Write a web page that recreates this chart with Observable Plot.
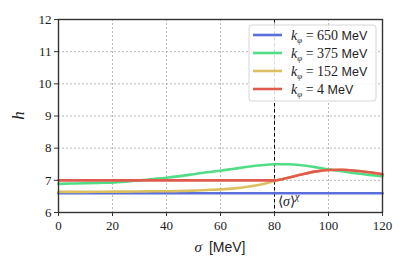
<!DOCTYPE html>
<html>
<head>
<meta charset="utf-8">
<script src="https://cdn.jsdelivr.net/npm/d3@7"></script>
<script src="https://cdn.jsdelivr.net/npm/@observablehq/plot@0.6"></script>
<style>
  html, body { margin: 0; padding: 0; background: #fff; }
  svg { display: block; }
</style>
</head>
<body>
<div id="chart"></div>
<script>
// ---- data ----
const sigma = [0,5,10,15,20,25,30,35,40,45,50,55,60,65,70,75,80,85,90,95,100,105,110,115,120];
const h650 = [6.60,6.60,6.60,6.60,6.60,6.60,6.60,6.60,6.60,6.60,6.60,6.60,6.60,6.60,6.60,6.60,6.60,6.60,6.60,6.60,6.60,6.60,6.60,6.60,6.60];
const h375 = [6.89,6.90,6.91,6.92,6.93,6.96,7.00,7.04,7.08,7.13,7.19,7.25,7.30,7.36,7.42,7.47,7.50,7.50,7.47,7.41,7.34,7.28,7.22,7.17,7.13];
const h152 = [6.64,6.64,6.64,6.645,6.65,6.65,6.655,6.66,6.66,6.67,6.68,6.70,6.72,6.75,6.80,6.87,6.98,7.08,7.18,7.27,7.32,7.33,7.30,7.25,7.19];
const h4   = [7.00,7.00,7.00,7.00,7.00,7.00,7.00,7.00,7.00,7.00,7.00,7.00,7.00,7.00,7.00,7.00,7.00,7.08,7.18,7.27,7.32,7.33,7.30,7.25,7.19];
const seriesNames = ["650", "375", "152", "4"];
const seriesValues = [h650, h375, h152, h4];
const colors = ["#5a6fdc", "#52dc86", "#dcc060", "#e05a4e"];
const xTicks = [0,20,40,60,80,100,120];
const yTicks = [6,7,8,9,10,11,12];
const markerSigma = 80;

const rows = [];
seriesNames.forEach((k, i) => sigma.forEach((s, j) => rows.push({k, s, h: seriesValues[i][j]})));

const SERIF = "Liberation Serif";
const SANS = "Liberation Sans";

const chart = Plot.plot({
  width: 407, height: 271,
  marginLeft: 58, marginRight: 25, marginTop: 19, marginBottom: 59,
  x: {domain: [0, 120]},
  y: {domain: [6, 12]},
  color: {domain: seriesNames, range: colors},
  marks: [
    Plot.gridX(xTicks.filter(t => t !== 0 && t !== 120), {stroke: "#999", strokeOpacity: 1, strokeWidth: 0.7, strokeDasharray: "2,2"}),
    Plot.gridY(yTicks.filter(t => t !== 6 && t !== 12), {stroke: "#999", strokeOpacity: 1, strokeWidth: 0.7, strokeDasharray: "2,2"}),
    Plot.ruleX([markerSigma], {stroke: "#000", strokeWidth: 1, strokeDasharray: "3.5,2.5"}),
    Plot.line(rows, {x: "s", y: "h", z: "k", stroke: "k", strokeWidth: 2.6, curve: "monotone-x"}),
    Plot.frame({stroke: "#333", strokeWidth: 1.4}),
    Plot.axisX(xTicks, {tickSize: 4, tickPadding: 4, label: null, fontSize: 13, fontFamily: SERIF, stroke: "#333", fill: "#222"}),
    Plot.axisY(yTicks, {tickSize: 4, tickPadding: 3, label: null, fontSize: 13, fontFamily: SERIF, stroke: "#333", fill: "#222"})
  ]
});
document.getElementById("chart").appendChild(chart);

const svg = d3.select(chart);
const xs = chart.scale("x"), ys = chart.scale("y");

// axis labels
const xl = svg.append("text").attr("x", (xs.apply(0) + xs.apply(120)) / 2).attr("y", 252)
  .attr("text-anchor", "middle").attr("font-family", SERIF).attr("font-size", 15).attr("fill", "#222");
xl.append("tspan").attr("font-style", "italic").text("σ");
xl.append("tspan").attr("font-family", SANS).attr("font-size", 14).text("\u2002[MeV]");

svg.append("text").attr("transform", `translate(24,${(ys.apply(6) + ys.apply(12)) / 2}) rotate(-90)`)
  .attr("text-anchor", "middle").attr("font-family", SERIF).attr("font-style", "italic")
  .attr("font-size", 17).attr("fill", "#222").text("h");

// annotation
const ann = svg.append("text").attr("x", xs.apply(markerSigma) + 4).attr("y", ys.apply(6) - 6)
  .attr("text-anchor", "start").attr("font-family", SERIF).attr("font-size", 14).attr("fill", "#222");
ann.append("tspan").text("⟨");
ann.append("tspan").attr("font-style", "italic").text("σ");
ann.append("tspan").text("⟩");
ann.append("tspan").attr("font-style", "italic").attr("font-size", 10).attr("dy", -6).text("χ");

// legend
const lg = svg.append("g").attr("transform", "translate(249,25)");
lg.append("rect").attr("width", 127).attr("height", 76).attr("rx", 3)
  .attr("fill", "#fff").attr("fill-opacity", 0.85).attr("stroke", "#ccc").attr("stroke-width", 0.8);
seriesNames.forEach((k, i) => {
  const y = 10 + i * 18;
  lg.append("line").attr("x1", 4).attr("x2", 33).attr("y1", y).attr("y2", y)
    .attr("stroke", colors[i]).attr("stroke-width", 2.6);
  const t = lg.append("text").attr("x", 42).attr("y", y + 4.5).attr("text-anchor", "start")
    .attr("font-family", SERIF).attr("font-size", 14).attr("fill", "#222");
  t.append("tspan").attr("font-style", "italic").text("k");
  t.append("tspan").attr("font-style", "italic").attr("font-size", 9).attr("dy", 3).text("φ");
  t.append("tspan").attr("dy", -3).text(" = " + k + " ");
  t.append("tspan").attr("font-family", SANS).attr("font-size", 12.5).text("MeV");
});
</script>
</body>
</html>
